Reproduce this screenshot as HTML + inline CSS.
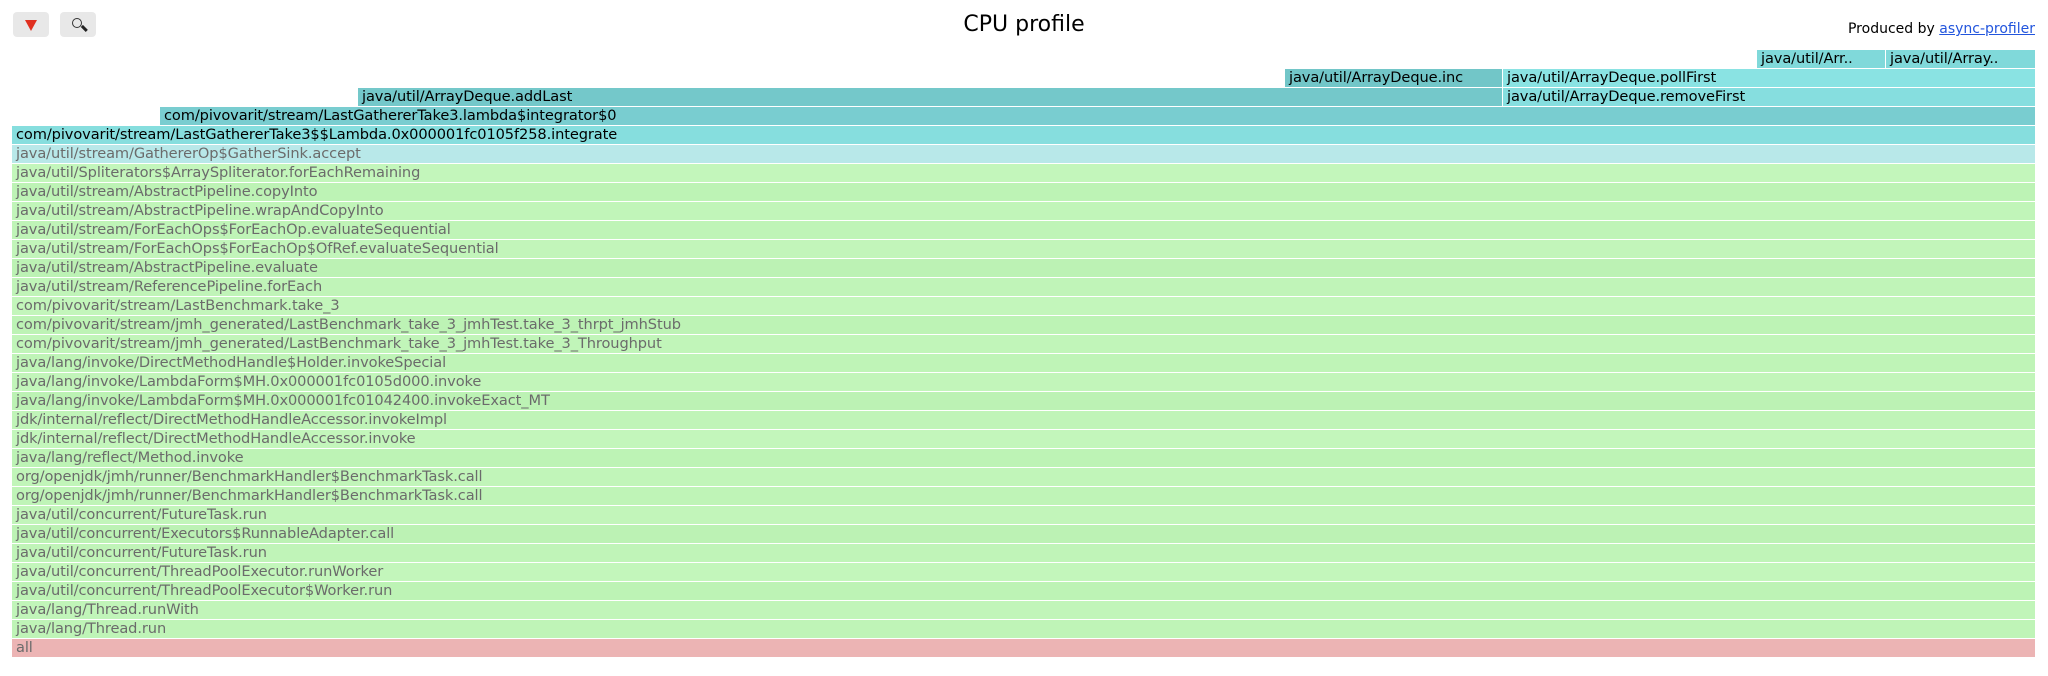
<!DOCTYPE html>
<html><head><meta charset="utf-8"><style>
body{margin:0;width:2048px;height:676px;background:#fff;position:relative;overflow:hidden;font-family:"DejaVu Sans","Liberation Sans",sans-serif}
.f{position:absolute;height:18px;line-height:18px;font-size:14.6px;padding-left:4px;box-sizing:border-box;overflow:hidden;white-space:nowrap;color:#000;letter-spacing:-0.1px}
.g{color:#6b6b6b}
.btn{position:absolute;top:12px;width:36px;height:25px;background:#e8e8e8;border-radius:4px}
</style></head><body>
<div class="btn" style="left:13px"><div style="position:absolute;left:12px;top:8px;width:0;height:0;border-left:6px solid transparent;border-right:6px solid transparent;border-top:11px solid #e03020"></div></div>
<div class="btn" style="left:60px"><div style="position:absolute;left:12px;top:6px;width:8px;height:8px;border:1.5px solid #333;border-radius:50%"></div><div style="position:absolute;left:21px;top:15px;width:7px;height:2.5px;background:#222;transform:rotate(45deg)"></div></div>
<div style="position:absolute;left:0;width:2048px;top:12px;text-align:center;font-size:22px">CPU profile</div>
<div style="position:absolute;right:13px;top:21px;font-size:14px">Produced by <span style="color:#2255dd;text-decoration:underline">async-profiler</span></div>
<div class="f" style="top:50px;left:1757px;width:128px;background:#80d9da">java/util/Arr..</div>
<div class="f" style="top:50px;left:1886px;width:149px;background:#80d9da">java/util/Array..</div>
<div class="f" style="top:69px;left:1285px;width:217px;background:#72c6c8">java/util/ArrayDeque.inc</div>
<div class="f" style="top:69px;left:1503px;width:532px;background:#8ae3e3">java/util/ArrayDeque.pollFirst</div>
<div class="f" style="top:88px;left:358px;width:1144px;background:#74c8ca">java/util/ArrayDeque.addLast</div>
<div class="f" style="top:88px;left:1503px;width:532px;background:#86dedf">java/util/ArrayDeque.removeFirst</div>
<div class="f" style="top:107px;left:160px;width:1875px;background:#79cdd0">com/pivovarit/stream/LastGathererTake3.lambda$integrator$0</div>
<div class="f" style="top:126px;left:12px;width:2023px;background:#86dede">com/pivovarit/stream/LastGathererTake3$$Lambda.0x000001fc0105f258.integrate</div>
<div class="f g" style="top:145px;left:12px;width:2023px;background:#b8e8e9">java/util/stream/GathererOp$GatherSink.accept</div>
<div id="rest"></div>
<script>
var names=["java/util/Spliterators$ArraySpliterator.forEachRemaining","java/util/stream/AbstractPipeline.copyInto","java/util/stream/AbstractPipeline.wrapAndCopyInto","java/util/stream/ForEachOps$ForEachOp.evaluateSequential","java/util/stream/ForEachOps$ForEachOp$OfRef.evaluateSequential","java/util/stream/AbstractPipeline.evaluate","java/util/stream/ReferencePipeline.forEach","com/pivovarit/stream/LastBenchmark.take_3","com/pivovarit/stream/jmh_generated/LastBenchmark_take_3_jmhTest.take_3_thrpt_jmhStub","com/pivovarit/stream/jmh_generated/LastBenchmark_take_3_jmhTest.take_3_Throughput","java/lang/invoke/DirectMethodHandle$Holder.invokeSpecial","java/lang/invoke/LambdaForm$MH.0x000001fc0105d000.invoke","java/lang/invoke/LambdaForm$MH.0x000001fc01042400.invokeExact_MT","jdk/internal/reflect/DirectMethodHandleAccessor.invokeImpl","jdk/internal/reflect/DirectMethodHandleAccessor.invoke","java/lang/reflect/Method.invoke","org/openjdk/jmh/runner/BenchmarkHandler$BenchmarkTask.call","org/openjdk/jmh/runner/BenchmarkHandler$BenchmarkTask.call","java/util/concurrent/FutureTask.run","java/util/concurrent/Executors$RunnableAdapter.call","java/util/concurrent/FutureTask.run","java/util/concurrent/ThreadPoolExecutor.runWorker","java/util/concurrent/ThreadPoolExecutor$Worker.run","java/lang/Thread.runWith","java/lang/Thread.run","all"];
var cols=["#c3f6bb","#bdf3b5","#c1f5b9","#bff4b7","#c2f5ba","#bcf2b4","#c0f4b8"];
var h="";
for(var i=0;i<names.length;i++){var t=164+i*19;var c=i==names.length-1?"#ecb4b4":cols[i%cols.length];
h+='<div class="f g" style="top:'+t+'px;left:12px;width:2023px;background:'+c+'">'+names[i]+'</div>';}
document.getElementById("rest").outerHTML=h;
</script>
</body></html>
